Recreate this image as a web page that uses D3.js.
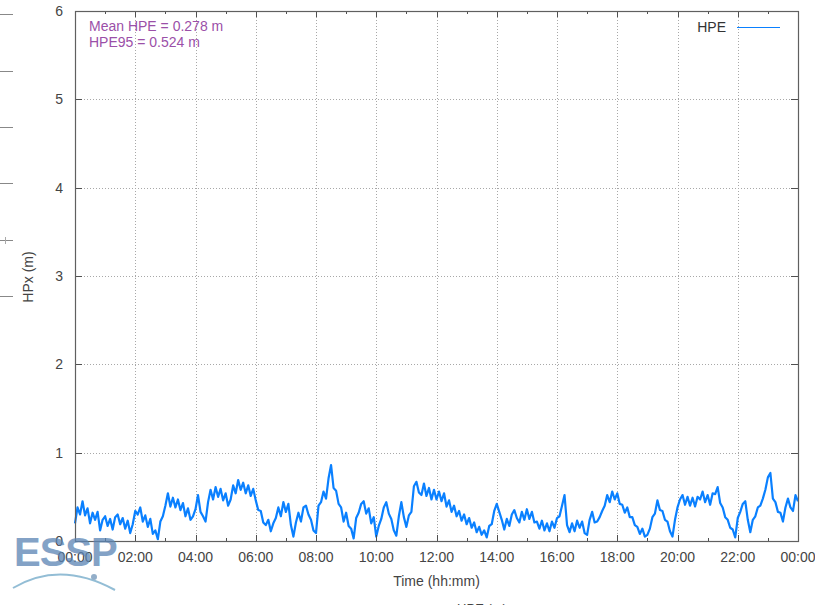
<!DOCTYPE html>
<html>
<head>
<meta charset="utf-8">
<script src="https://cdn.jsdelivr.net/npm/d3@7"></script>
<style>
  body { margin: 0; background: #fff; }
  svg { display: block; font-family: "Liberation Sans", Arial, sans-serif; }
</style>
</head>
<body>
<div id="chart"></div>
<script>
// HPE samples, one every 5 minutes from 00:00 to 24:00
let stepMinutes = 5;
let hpe = [
  0.20, 0.38, 0.30, 0.45, 0.29, 0.37, 0.20, 0.32, 0.24, 0.33, 0.12, 0.24, 0.28, 0.17, 0.25, 0.13, 0.27, 0.30, 0.19, 0.26, 0.14, 0.23, 0.09, 0.19,
  0.34, 0.30, 0.38, 0.22, 0.29, 0.16, 0.25, 0.08, 0.12, 0.02, 0.22, 0.28, 0.40, 0.54, 0.39, 0.49, 0.38, 0.47, 0.35, 0.43, 0.28, 0.37, 0.24, 0.28,
  0.36, 0.52, 0.33, 0.28, 0.22, 0.44, 0.58, 0.47, 0.61, 0.50, 0.59, 0.46, 0.54, 0.40, 0.47, 0.63, 0.54, 0.69, 0.58, 0.66, 0.54, 0.63, 0.51, 0.59,
  0.46, 0.35, 0.34, 0.21, 0.18, 0.24, 0.11, 0.20, 0.26, 0.38, 0.28, 0.44, 0.33, 0.42, 0.18, 0.05, 0.21, 0.32, 0.22, 0.38, 0.40, 0.30, 0.24, 0.12,
  0.09, 0.40, 0.44, 0.56, 0.48, 0.71, 0.86, 0.60, 0.57, 0.42, 0.38, 0.22, 0.32, 0.17, 0.14, 0.03, 0.26, 0.32, 0.42, 0.45, 0.31, 0.37, 0.20, 0.27,
  0.05, 0.17, 0.25, 0.38, 0.44, 0.31, 0.25, 0.12, 0.06, 0.28, 0.44, 0.27, 0.16, 0.29, 0.33, 0.62, 0.67, 0.55, 0.52, 0.65, 0.51, 0.60, 0.47, 0.58,
  0.47, 0.56, 0.45, 0.54, 0.39, 0.46, 0.33, 0.40, 0.28, 0.34, 0.23, 0.30, 0.19, 0.26, 0.15, 0.21, 0.10, 0.16, 0.07, 0.12, 0.04, 0.17, 0.19, 0.34,
  0.42, 0.33, 0.24, 0.13, 0.25, 0.17, 0.30, 0.35, 0.26, 0.21, 0.33, 0.24, 0.36, 0.25, 0.33, 0.21, 0.22, 0.14, 0.23, 0.12, 0.20, 0.11, 0.22, 0.15,
  0.26, 0.28, 0.40, 0.52, 0.18, 0.10, 0.20, 0.11, 0.23, 0.15, 0.22, 0.09, 0.07, 0.24, 0.33, 0.21, 0.22, 0.27, 0.34, 0.40, 0.52, 0.44, 0.56, 0.47,
  0.54, 0.42, 0.41, 0.32, 0.38, 0.27, 0.27, 0.18, 0.16, 0.08, 0.14, 0.05, 0.07, 0.14, 0.27, 0.31, 0.46, 0.35, 0.34, 0.24, 0.22, 0.11, 0.05, 0.24,
  0.38, 0.47, 0.52, 0.41, 0.50, 0.40, 0.49, 0.39, 0.50, 0.47, 0.56, 0.44, 0.52, 0.41, 0.54, 0.53, 0.61, 0.43, 0.38, 0.27, 0.24, 0.15, 0.13, 0.04,
  0.26, 0.33, 0.42, 0.45, 0.24, 0.10, 0.24, 0.28, 0.38, 0.40, 0.48, 0.58, 0.72, 0.77, 0.48, 0.44, 0.33, 0.32, 0.22, 0.38, 0.48, 0.38, 0.34, 0.52,
  0.45
];
let xTicks = [0, 120, 240, 360, 480, 600, 720, 840, 960, 1080, 1200, 1320, 1440];
let xTickLabels = ['00:00', '02:00', '04:00', '06:00', '08:00', '10:00', '12:00', '14:00', '16:00', '18:00', '20:00', '22:00', '00:00'];
let yTicks = [0, 1, 2, 3, 4, 5, 6];
let notes = ['Mean HPE = 0.278 m', 'HPE95 = 0.524 m'];
let seriesName = 'HPE';

let width = 815, height = 605;
let margin = {left: 75, right: 17, top: 11, bottom: 64};
let pw = width - margin.left - margin.right;
let ph = height - margin.top - margin.bottom;
let lineColor = '#0a80ff';

let svg = d3.select('#chart').append('svg')
    .attr('width', width)
    .attr('height', height);

// stray bits of a neighbouring plot on the left edge
[14, 71, 127, 183, 240, 296].forEach(y => {
    svg.append('line').attr('x1', 0).attr('x2', 13).attr('y1', y + 0.5).attr('y2', y + 0.5)
        .attr('stroke', '#888').attr('stroke-width', 1);
});
svg.append('line').attr('x1', 5.5).attr('x2', 5.5).attr('y1', 237).attr('y2', 244)
    .attr('stroke', '#aaa');

let x = d3.scaleLinear().domain([0, 1440]).range([0, pw]);
let y = d3.scaleLinear().domain([0, 6]).range([ph, 0]);

let g = svg.append('g').attr('transform', `translate(${margin.left},${margin.top})`);

// grid
g.append('g').selectAll('line').data(xTicks.slice(1, -1)).join('line')
    .attr('x1', d => Math.round(x(d)) + 0.5).attr('x2', d => Math.round(x(d)) + 0.5)
    .attr('y1', 0).attr('y2', ph)
    .attr('stroke', '#a8a8a8').attr('stroke-dasharray', '1,2');
g.append('g').selectAll('line').data(yTicks.slice(1, -1)).join('line')
    .attr('y1', d => Math.round(y(d)) + 0.5).attr('y2', d => Math.round(y(d)) + 0.5)
    .attr('x1', 0).attr('x2', pw)
    .attr('stroke', '#a8a8a8').attr('stroke-dasharray', '1,2');

// data line
let line = d3.line()
    .x((d, i) => x(i * stepMinutes))
    .y(d => y(d));
g.append('path')
    .datum(hpe)
    .attr('d', line)
    .attr('fill', 'none')
    .attr('stroke', lineColor)
    .attr('stroke-width', 2.2)
    .attr('stroke-linejoin', 'round');

// ticks (inward, on all sides)
let minorX = d3.range(60, 1440, 120);
let tickColor = '#505050';
let tk = g.append('g').attr('stroke', tickColor).attr('stroke-width', 1);
xTicks.forEach(t => {
    let px = Math.round(x(t)) + 0.5;
    tk.append('line').attr('x1', px).attr('x2', px).attr('y1', ph).attr('y2', ph - 6);
    tk.append('line').attr('x1', px).attr('x2', px).attr('y1', 0).attr('y2', 6);
});
minorX.forEach(t => {
    let px = Math.round(x(t)) + 0.5;
    tk.append('line').attr('x1', px).attr('x2', px).attr('y1', ph).attr('y2', ph - 3);
    tk.append('line').attr('x1', px).attr('x2', px).attr('y1', 0).attr('y2', 3);
});
yTicks.forEach(t => {
    let py = Math.round(y(t)) + 0.5;
    tk.append('line').attr('x1', 0).attr('x2', 7).attr('y1', py).attr('y2', py);
    tk.append('line').attr('x1', pw).attr('x2', pw - 7).attr('y1', py).attr('y2', py);
});

// frame
g.append('rect')
    .attr('x', 0.5).attr('y', 0.5)
    .attr('width', pw).attr('height', ph)
    .attr('fill', 'none').attr('stroke', '#606060').attr('stroke-width', 1.2);

// tick labels
let labelColor = '#444';
g.append('g').selectAll('text').data(xTicks).join('text')
    .attr('x', d => x(d))
    .attr('y', ph + 21)
    .attr('text-anchor', 'middle')
    .attr('font-size', 14)
    .attr('fill', labelColor)
    .text((d, i) => xTickLabels[i]);
g.append('g').selectAll('text').data(yTicks).join('text')
    .attr('x', -12)
    .attr('y', d => y(d) + 5)
    .attr('text-anchor', 'end')
    .attr('font-size', 14)
    .attr('fill', labelColor)
    .text(d => d);

// axis titles
svg.append('text')
    .attr('x', margin.left + pw / 2)
    .attr('y', 586)
    .attr('text-anchor', 'middle')
    .attr('font-size', 14)
    .attr('fill', labelColor)
    .text('Time (hh:mm)');
svg.append('text')
    .attr('transform', 'translate(33,277) rotate(-90)')
    .attr('text-anchor', 'middle')
    .attr('font-size', 14)
    .attr('fill', labelColor)
    .text('HPx (m)');
// cut-off title of the plot below
svg.append('text')
    .attr('x', 482).attr('y', 613)
    .attr('text-anchor', 'middle')
    .attr('font-size', 13)
    .attr('fill', labelColor)
    .text('HPE (m)');

// annotations
g.append('g').selectAll('text').data(notes).join('text')
    .attr('x', 14)
    .attr('y', (d, i) => 20 + i * 16)
    .attr('font-size', 14)
    .attr('fill', '#9b4fa8')
    .text(d => d);

// legend
g.append('text')
    .attr('x', 651).attr('y', 21)
    .attr('text-anchor', 'end')
    .attr('font-size', 14)
    .attr('fill', '#333')
    .text(seriesName);
g.append('line')
    .attr('x1', 662).attr('x2', 705)
    .attr('y1', 16.5).attr('y2', 16.5)
    .attr('stroke', lineColor).attr('stroke-width', 1.2);

// ESSP logo
let logo = svg.append('g').attr('opacity', 0.75);
logo.append('text')
    .attr('x', 14).attr('y', 566)
    .attr('font-size', 40)
    .attr('font-weight', 'bold')
    .attr('fill', '#5a84b4')
    .attr('letter-spacing', -1)
    .text('ESSP');
logo.append('path')
    .attr('d', 'M13,588 Q60,560 115,590')
    .attr('fill', 'none')
    .attr('stroke', '#6fa8c8')
    .attr('stroke-width', 2);
logo.append('circle')
    .attr('cx', 94).attr('cy', 577).attr('r', 3)
    .attr('fill', '#6f94b8');
</script>
</body>
</html>
